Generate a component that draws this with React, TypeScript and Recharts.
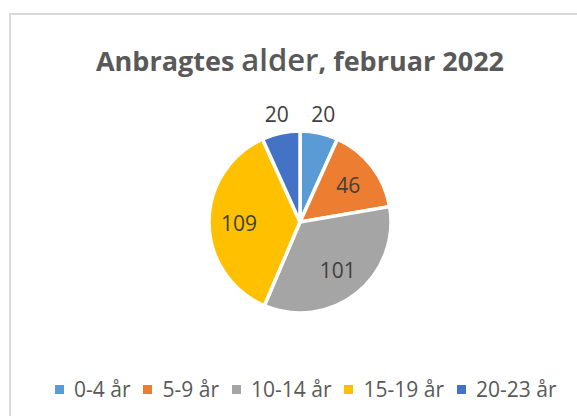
import React from "react";
import { PieChart, Pie, Cell, Legend } from "recharts";

const categories = ["0-4 år", "5-9 år", "10-14 år", "15-19 år", "20-23 år"];
const values = [20, 46, 101, 109, 20];
const colors = ["#5B9BD5", "#ED7D31", "#A5A5A5", "#FFC000", "#4472C4"];
const titleParts = ["Anbragtes ", "alder", ", februar 2022"];

const data = categories.map((name, i) => ({ name, value: values[i] }));

const FONT = "'Open Sans', Lato, sans-serif";
const RAD = Math.PI / 180;

const renderLabel = (props: any) => {
  const { cx, cy, midAngle, outerRadius, value } = props;
  const outside = value < 30;
  const r = outside ? outerRadius + 19 : outerRadius * 0.67;
  const x = cx + r * Math.cos(-midAngle * RAD);
  const y = cy + r * Math.sin(-midAngle * RAD);
  return (
    <text
      x={x}
      y={y}
      fill="#404040"
      fontSize={21}
      fontFamily={FONT}
      textAnchor="middle"
      dominantBaseline="central"
    >
      {value}
    </text>
  );
};

const renderLegend = (props: any) => {
  const payload = [...(props.payload || [])].sort(
    (a: any, b: any) => categories.indexOf(a.value) - categories.indexOf(b.value)
  );
  return (
    <div
      style={{
        display: "flex",
        paddingLeft: 55,
        fontFamily: FONT,
        fontSize: 21,
        lineHeight: "26px",
        color: "#595959",
        alignItems: "center",
        whiteSpace: "nowrap",
      }}
    >
      {payload.map((entry: any, i: number) => (
        <div key={i} style={{ display: "flex", alignItems: "center", marginRight: 13 }}>
          <span
            style={{
              display: "inline-block",
              width: 9,
              height: 9,
              background: entry.color,
              marginRight: 10,
            }}
          />
          <span>{entry.value}</span>
        </div>
      ))}
    </div>
  );
};

export default function App() {
  return (
    <div
      style={{
        position: "fixed",
        left: 0,
        top: 0,
        width: 577,
        height: 416,
        background: "#ffffff",
        overflow: "hidden",
      }}
    >
      <div
        style={{
          position: "absolute",
          left: 9,
          top: 13,
          width: 600,
          height: 500,
          borderTop: "2px solid #D9D9D9",
          borderLeft: "2px solid #D9D9D9",
        }}
      />
      <div
        style={{
          position: "absolute",
          left: 0,
          top: 41,
          width: 600,
          textAlign: "center",
          fontFamily: FONT,
          color: "#595959",
          whiteSpace: "nowrap",
          lineHeight: "36px",
        }}
      >
        <span style={{ fontWeight: 700, fontSize: 27 }}>{titleParts[0]}</span>
        <span style={{ fontWeight: 600, fontSize: 31 }}>{titleParts[1]}</span>
        <span style={{ fontWeight: 700, fontSize: 27 }}>{titleParts[2]}</span>
      </div>
      <div style={{ position: "absolute", left: 0, top: 0 }}>
        <PieChart width={577} height={416} margin={{ top: 0, right: 0, bottom: 0, left: 0 }}>
          <Pie
            data={data}
            dataKey="value"
            nameKey="name"
            cx={300}
            cy={222}
            outerRadius={91}
            startAngle={90}
            endAngle={-270}
            stroke="#ffffff"
            strokeWidth={3.5}
            label={renderLabel}
            labelLine={false}
            isAnimationActive={false}
          >
            {data.map((d, i) => (
              <Cell key={d.name} fill={colors[i]} />
            ))}
          </Pie>
          <Legend
            content={renderLegend}
            wrapperStyle={{ position: "absolute", top: 376, left: 0, width: 577, height: 26 }}
          />
        </PieChart>
      </div>
    </div>
  );
}
